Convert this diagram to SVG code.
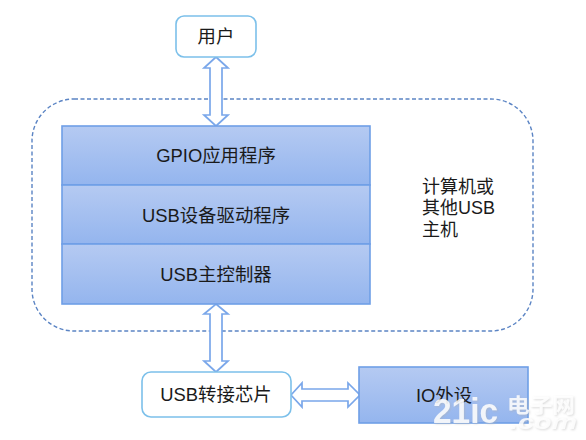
<svg xmlns="http://www.w3.org/2000/svg" width="586" height="440" viewBox="0 0 586 440">
<style>
text{font-family:"Liberation Sans","Noto Sans CJK SC",sans-serif;font-size:18.4px;fill:#1a1a1a;text-anchor:middle}
.s{font-size:18px;text-anchor:start}
.w{stroke:#7cc0ea;stroke-width:1.6;fill:#fff}
.b{stroke:#6f9fe6;stroke-width:1.6;fill:url(#g)}
.a{stroke:#7aa7ea;stroke-width:1.7;fill:#fff}
#watermark text{font-weight:700;fill:#fff;fill-opacity:.85;text-anchor:start}
</style>
<defs>
<linearGradient id="g" x1="0" y1="0" x2="0" y2="1"><stop offset="0" stop-color="#b5caf2"/><stop offset="1" stop-color="#94b5ee"/></linearGradient>
<filter id="sh" x="-10%" y="-20%" width="120%" height="140%"><feDropShadow dx="1" dy="1" stdDeviation="1.2" flood-color="#b0b0b0" flood-opacity=".55"/></filter>
</defs>
<rect width="586" height="440" fill="#fff"/>
<g id="host"><rect x="32" y="99" width="501" height="232" rx="42" fill="#fff" stroke="#5b84c4" stroke-width="1.4" stroke-dasharray="4 2.5"/>
<text class="s" x="422" y="193">计算机或</text><text class="s" x="422" y="214">其他USB</text><text class="s" x="422" y="236">主机</text></g>
<g id="connectors">
<path class="a" d="M216 57L228 68H222V115H228L216 126L204 115H210V68H204Z"/>
<path class="a" d="M216 304L228 314H222V361H228L216 372L204 361H210V314H204Z"/>
<path class="a" d="M291 395L302 383V389H348V383L360 395L348 407V401H302V407Z"/>
</g>
<g id="user"><rect class="w" x="176" y="16" width="80" height="41" rx="8"/><text x="216" y="43">用户</text></g>
<g id="gpio"><rect class="b" x="62" y="126" width="308" height="59"/><text x="216" y="162">GPIO应用程序</text></g>
<g id="driver"><rect class="b" x="62" y="185" width="308" height="59"/><text x="216" y="222">USB设备驱动程序</text></g>
<g id="controller"><rect class="b" x="62" y="244" width="308" height="60"/><text x="216" y="281">USB主控制器</text></g>
<g id="chip"><rect class="w" x="142" y="372" width="149" height="45" rx="9"/><text x="216" y="401">USB转接芯片</text></g>
<g id="io"><rect class="b" x="359" y="367" width="169" height="56"/><text x="444" y="402">IO外设</text></g>
<g id="watermark" filter="url(#sh)">
<text x="433" y="423" textLength="65" lengthAdjust="spacingAndGlyphs" style="font-size:35px">21ic</text>
<text x="507" y="413" textLength="68" lengthAdjust="spacingAndGlyphs" style="font-size:20px">电子网</text>
<text x="510" y="429" textLength="67" lengthAdjust="spacingAndGlyphs" style="font-size:20px;font-style:italic">.com</text>
</g>
</svg>
